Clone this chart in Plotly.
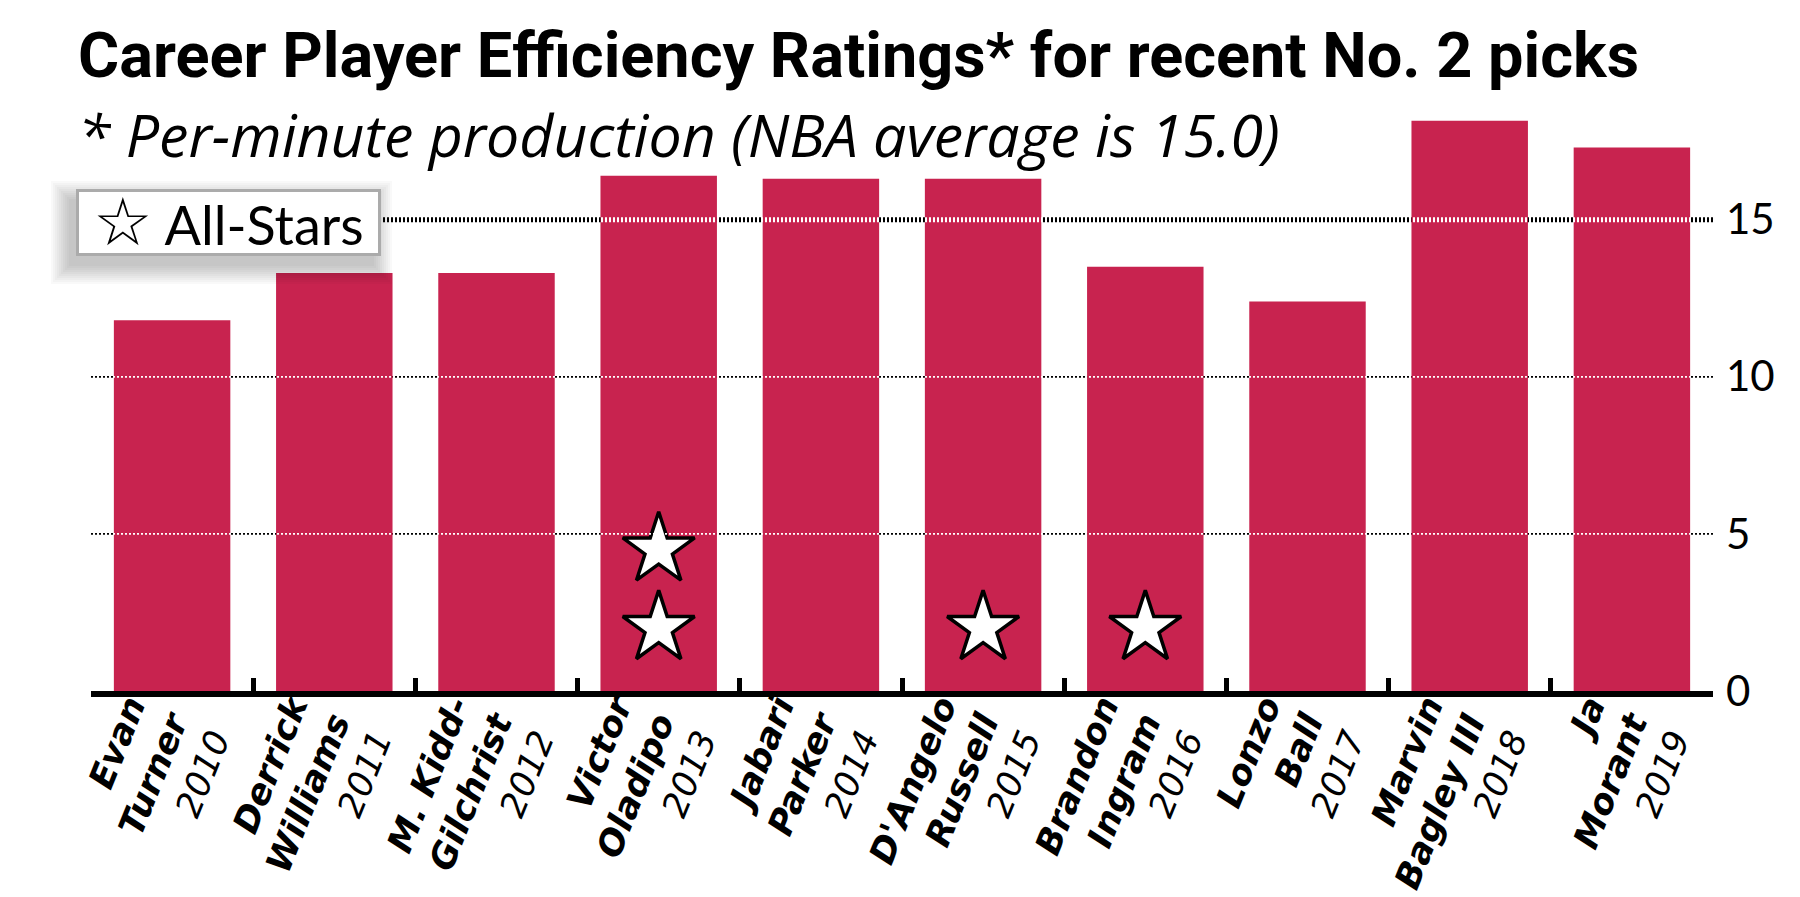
import plotly.graph_objects as go

# ---- data ----
years = ["2010", "2011", "2012", "2013", "2014", "2015", "2016", "2017", "2018", "2019"]
first_names = ["Evan", "Derrick", "M. Kidd-", "Victor", "Jabari", "D'Angelo", "Brandon", "Lonzo", "Marvin", "Ja"]
last_names = ["Turner", "Williams", "Gilchrist", "Oladipo", "Parker", "Russell", "Ingram", "Ball", "Bagley III", "Morant"]
per_values = [11.8, 13.3, 13.3, 16.4, 16.3, 16.3, 13.5, 12.4, 18.15, 17.3]

allstar_years = ["2013", "2013", "2015", "2016"]
allstar_levels = [2.0, 4.5, 2.0, 2.0]

ytick_values = [0, 5, 10, 15]
ytick_labels = ["0", "5", "10", "15"]
grid_values = [5, 10, 15]
nba_average = 15

title_text = "Career Player Efficiency Ratings* for recent No. 2 picks"
subtitle_text = "* Per-minute production (NBA average is 15.0)"
legend_text = "All-Stars"

# ---- layout geometry ----
W, H = 1800, 897
ML, MR, MT, MB = 83, 95, 86, 214
PW, PH = W - ML - MR, H - MT - MB


def px_x(px):
    return (px - ML) / PW


def px_y(py):
    return (H - MB - py) / PH


BAR_COLOR = "#C8234F"

NAME = "<span style='font-weight:bold;font-style:italic'>{}</span>"
YEAR = "<span style='font-weight:300;font-style:italic'>{}</span>"
ticktext = [
    NAME.format(f) + "<br>" + NAME.format(l) + "<br>" + YEAR.format(y)
    for f, l, y in zip(first_names, last_names, years)
]

fig = go.Figure()
fig.add_trace(go.Bar(
    x=years, y=per_values,
    marker=dict(color=BAR_COLOR, line=dict(width=0)),
    hoverinfo="skip",
))
fig.add_trace(go.Scatter(
    x=allstar_years, y=allstar_levels, mode="markers",
    marker=dict(symbol="star", size=54, color="white",
                line=dict(color="black", width=3.5)),
    hoverinfo="skip",
))

shapes = []
for g in grid_values:
    w = 5 if g == nba_average else 1.8
    shapes.append(dict(type="line", xref="paper", yref="y", x0=0, x1=1, y0=g, y1=g,
                       line=dict(color="black", width=w, dash="2px,2px"), layer="below"))
    shapes.append(dict(type="line", xref="paper", yref="y", x0=0, x1=1, y0=g, y1=g,
                       line=dict(color="white", width=w, dash="0px,2px,2px,0px"), layer="above"))

# legend box soft shadow (down-left)
bx0, by0, bx1, by1 = 68, 181, 373, 248
n_layers = 10
for i in range(n_layers):
    grow = 18 - i * 2
    shapes.append(dict(type="rect", xref="paper", yref="paper",
                       x0=px_x(bx0 - 7 - grow), x1=px_x(bx1 - 7 + grow),
                       y0=px_y(by1 + 10 + grow), y1=px_y(by0 + 10 - grow),
                       line=dict(width=0), fillcolor="rgba(0,0,0,0.022)", layer="above"))

annotations = [
    dict(text=f"<b>{title_text}</b>", xref="paper", yref="paper",
         x=px_x(68), y=px_y(47), xanchor="left", yanchor="middle", showarrow=False,
         font=dict(family="Roboto", size=63, color="black", weight=900)),
    dict(text=f"<i>{subtitle_text}</i>", xref="paper", yref="paper",
         x=px_x(68), y=px_y(126), xanchor="left", yanchor="middle", showarrow=False,
         font=dict(family="Open Sans", size=59, color="black")),
    dict(text=f"<span style='font-family:DejaVu Sans;font-size:66px'>☆</span> {legend_text}",
         xref="paper", yref="paper",
         x=px_x(bx0), y=px_y((by0 + by1) / 2), xanchor="left", yanchor="middle",
         showarrow=False, width=bx1 - bx0 - 14, height=by1 - by0 - 14, align="center",
         bgcolor="white", bordercolor="#ABABAB", borderwidth=3, borderpad=4,
         font=dict(family="Lato", size=54, color="black")),
]

fig.update_layout(
    width=W, height=H,
    margin=dict(l=ML, r=MR, t=MT, b=MB, pad=0, autoexpand=False),
    paper_bgcolor="white", plot_bgcolor="white",
    showlegend=False, bargap=0.282,
    shapes=shapes, annotations=annotations,
    xaxis=dict(
        type="category", tickmode="array", tickvals=years, ticktext=ticktext,
        tickangle=-68, tickson="boundaries", ticks="inside", ticklen=13, tickwidth=5,
        tickcolor="black", showline=True, linewidth=6, linecolor="black",
        showgrid=False, zeroline=False, automargin=False,
        ticklabelstandoff=-8,
        tickfont=dict(family="DejaVu Sans", size=35, color="black"),
        range=[-0.5, 9.5],
    ),
    yaxis=dict(
        range=[0, 19], side="right", tickmode="array", tickvals=ytick_values,
        ticktext=ytick_labels, showgrid=False, zeroline=False, showline=False,
        ticks="", ticklabelstandoff=12, automargin=False,
        tickfont=dict(family="Lato", size=42, color="black"),
    ),
)

fig.write_html("out.html")
